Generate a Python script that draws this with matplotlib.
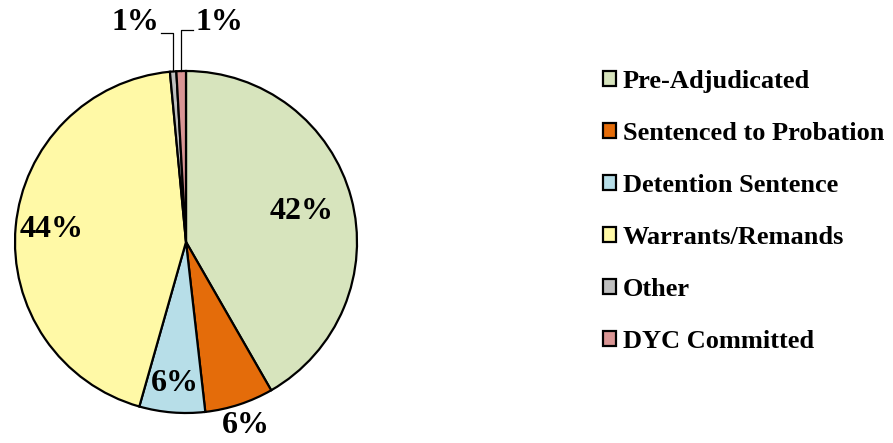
import numpy as np
import matplotlib.pyplot as plt
from matplotlib.patches import Patch

labels = ['Pre-Adjudicated', 'Sentenced to Probation', 'Detention Sentence',
          'Warrants/Remands', 'Other', 'DYC Committed']
shares = [41.7, 6.5, 6.2, 44.1, 0.6, 0.9]
pct_text = ['42%', '6%', '6%', '44%', '1%', '1%']
colors = ['#D7E4BD', '#E46C0A', '#B7DEE8', '#FFF9A6', '#BFBFBF', '#D99594']
# radial position of each percent label (pie radius = 1)
label_r = [0.70, 1.13, 0.83, 0.79, None, None]

plt.rcParams['font.family'] = ['Liberation Serif', 'DejaVu Serif']
plt.rcParams['font.weight'] = 'bold'

W, H = 893, 443
cx, cy, R = 186, 242, 171
fig = plt.figure(figsize=(W / 100, H / 100), dpi=100)
ax = fig.add_axes([0, 0, 1, 1])

wedges, _ = ax.pie(shares, colors=colors, startangle=90, counterclock=False,
                   radius=1, center=(0, 0), frame=True,
                   wedgeprops=dict(edgecolor='black', linewidth=1.6))
ax.set_xlim(-cx / R, (W - cx) / R)
ax.set_ylim((cy - H) / R, cy / R)
ax.axis('off')

for w, txt, r in zip(wedges, pct_text, label_r):
    if r is None:
        continue
    mid = np.deg2rad((w.theta1 + w.theta2) / 2)
    ax.text(r * np.cos(mid), r * np.sin(mid), txt, ha='center', va='center',
            fontsize=23, fontweight='bold')

# leader-line labels for the two thin slices at the top
ty = (cy - 22) / R
for w, txt, side, ly in zip(wedges[4:], pct_text[4:], [-1, 1], [33, 30]):
    mid = np.deg2rad((w.theta1 + w.theta2) / 2)
    x0, y0 = np.cos(mid), np.sin(mid)
    yk = (cy - ly) / R
    xe = x0 + side * 12 / R
    ax.plot([x0, x0, xe], [y0, yk, yk], color='black', lw=0.9)
    ax.text(xe + side * 2 / R, ty, txt, ha='right' if side < 0 else 'left',
            va='center', fontsize=23, fontweight='bold')

handles = [Patch(facecolor=c, edgecolor='black', linewidth=1.6) for c in colors]
ax.legend(handles, labels, loc='upper left', bbox_to_anchor=(603 / W, 1 - 70 / H),
          bbox_transform=fig.transFigure, frameon=False,
          prop=dict(family='Liberation Serif', weight='bold', size=19),
          handlelength=0.5, handleheight=0.5, handletextpad=0.25,
          labelspacing=1.1, borderaxespad=0, borderpad=0)

fig.savefig('out.png', dpi=100)
